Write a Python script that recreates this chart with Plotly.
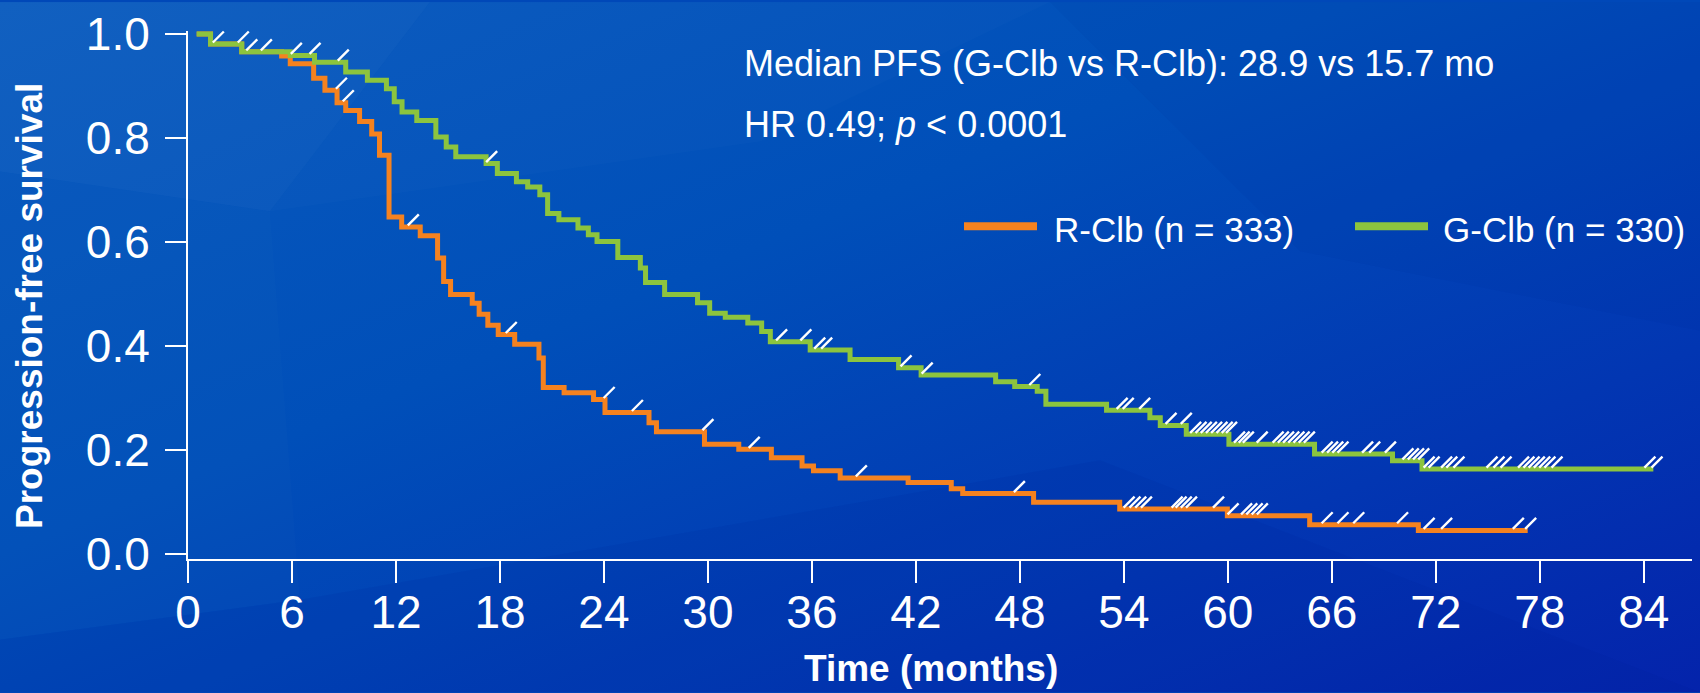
import base64
import plotly.graph_objects as go

# ---------------- data ----------------
# R-Clb (orange): Kaplan-Meier step times (months) and survival after each step
rclb_time = [0.5, 1.3, 3.1, 5.4, 5.9, 7.25, 7.9, 8.6, 9.1, 9.9, 10.6, 11.05, 11.6, 12.33,
             13.4, 14.4, 14.75, 15.15, 16.4, 16.8, 17.3, 17.9, 18.85, 20.25, 20.5, 21.7,
             23.4, 24.06, 26.6, 27.03, 29.8, 31.78, 33.66, 35.43, 36.09, 37.63, 41.55,
             44.04, 44.7, 48.79, 53.76, 59.97, 64.72, 70.99]
rclb_surv = [1.0, 0.981, 0.966, 0.958, 0.943, 0.915, 0.892, 0.868, 0.853, 0.832, 0.808,
             0.767, 0.648, 0.629, 0.612, 0.569, 0.524, 0.499, 0.482, 0.461, 0.44, 0.422,
             0.403, 0.377, 0.32, 0.31, 0.297, 0.272, 0.252, 0.235, 0.211, 0.201, 0.185,
             0.169, 0.16, 0.146, 0.137, 0.125, 0.116, 0.099, 0.086, 0.073, 0.056, 0.045]
rclb_last_time = 77.3
rclb_censor = [8.85, 9.25, 13.0, 18.65, 24.3, 25.93, 30.0, 32.67, 38.85, 47.97, 54.3,
               54.64, 54.97, 55.3, 57.07, 57.3, 57.6, 57.9, 59.46, 60.3, 61.08, 61.38,
               61.69, 61.99, 65.73, 66.64, 67.55, 70.08, 71.61, 72.62, 76.76, 77.47]

# G-Clb (green)
gclb_time = [0.5, 1.3, 3.1, 5.9, 7.3, 9.1, 10.35, 11.45, 11.9, 12.35, 13.2, 14.3, 14.9,
             15.45, 17.2, 17.85, 18.95, 19.6, 20.3, 20.75, 21.4, 22.5, 23.1, 23.6, 24.8,
             26.1, 26.4, 27.5, 29.4, 30.1, 31.0, 32.3, 33.1, 33.6, 35.9, 38.2, 41.0, 42.3,
             46.6, 47.7, 49.0, 49.5, 53.0, 55.5, 56.1, 57.6, 60.06, 65.0, 69.5, 71.2]
gclb_surv = [1.0, 0.981, 0.966, 0.959, 0.946, 0.927, 0.911, 0.895, 0.87, 0.85, 0.834,
             0.802, 0.783, 0.764, 0.751, 0.732, 0.716, 0.706, 0.691, 0.655, 0.643, 0.627,
             0.614, 0.601, 0.57, 0.55, 0.522, 0.499, 0.483, 0.463, 0.455, 0.444, 0.428,
             0.408, 0.392, 0.374, 0.358, 0.344, 0.331, 0.322, 0.313, 0.288, 0.276, 0.262,
             0.247, 0.230, 0.211, 0.192, 0.179, 0.163]
gclb_last_time = 84.55
gclb_censor = [0.95, 1.75, 3.19, 3.68, 4.52, 6.25, 7.33, 8.96, 17.52, 34.25, 35.65, 36.45,
               36.85, 41.43, 42.65, 48.86, 53.9, 54.25, 55.2, 56.72, 57.6, 58.14, 58.45,
               58.75, 59.05, 59.35, 59.66, 59.96, 60.21, 60.67, 60.94, 61.18, 61.98, 62.9,
               63.2, 63.5, 63.8, 64.1, 64.4, 64.7, 65.73, 66.04, 66.34, 66.64, 68.06, 68.47,
               69.38, 70.39, 70.7, 71.0, 71.3, 71.61, 71.9, 72.62, 72.92, 73.33, 75.24,
               75.64, 76.05, 77.06, 77.37, 77.67, 77.97, 78.28, 78.58, 78.99, 84.35, 84.76]

x_ticks = [0, 6, 12, 18, 24, 30, 36, 42, 48, 54, 60, 66, 72, 78, 84]
y_ticks = [0.0, 0.2, 0.4, 0.6, 0.8, 1.0]
y_ticklabels = ["0.0", "0.2", "0.4", "0.6", "0.8", "1.0"]

series_names = ["R-Clb (n = 333)", "G-Clb (n = 330)"]
annot_line1 = "Median PFS (G-Clb vs R-Clb): 28.9 vs 15.7 mo"
annot_line2 = "HR 0.49; <i>p</i> &lt; 0.0001"
x_title = "Time (months)"
y_title = "Progression-free survival"

# ---------------- style ----------------
ORANGE = "#F5821F"
GREEN = "#8CC43E"
WHITE = "#FFFFFF"
FONT = "Liberation Sans, Arial, sans-serif"

W, H = 1700, 693
ML, MR, MT, MB = 188, 8, 29, 134
PW, PH = W - ML - MR, H - MT - MB
X_RANGE = [0, 86.78]
Y_RANGE = [-0.01, 1.006]
PX_PER_UNIT_Y = PH / (Y_RANGE[1] - Y_RANGE[0])
PX_PER_UNIT_X = PW / (X_RANGE[1] - X_RANGE[0])


def paper_x(px):
    return (px - ML) / PW


def paper_y(py):
    return (H - MB - py) / PH


def step_value(times, surv, t):
    v = surv[0]
    for ti, si in zip(times, surv):
        if ti <= t:
            v = si
    return v


def censor_points(times, surv, cens):
    # mark sits just above the curve, its lower-left end at the censor level
    lift = 7 / PX_PER_UNIT_Y
    back = 5.5 / PX_PER_UNIT_X
    ys = [step_value(times, surv, c - back) + lift for c in cens]
    return cens, ys


# background: blue gradient with faint facets (decoration)
svg = f"""<svg xmlns='http://www.w3.org/2000/svg' width='{W}' height='{H}' viewBox='0 0 {W} {H}' preserveAspectRatio='none'>
<defs><linearGradient id='g' x1='0' y1='0' x2='1' y2='1'>
<stop offset='0' stop-color='#0A5BBE'/>
<stop offset='0.4' stop-color='#004FB9'/>
<stop offset='0.75' stop-color='#0236B2'/>
<stop offset='1' stop-color='#0423AB'/>
</linearGradient></defs>
<rect width='{W}' height='{H}' fill='url(#g)'/>
<polygon points='0,0 430,0 270,210 0,170' fill='#ffffff' fill-opacity='0.03'/>
<polygon points='430,0 1050,0 760,140 270,210' fill='#ffffff' fill-opacity='0.015'/>
<polygon points='0,170 270,210 300,600 0,640' fill='#ffffff' fill-opacity='0.012'/>
<polygon points='0,640 300,600 1100,460 1700,693 0,693' fill='#001a90' fill-opacity='0.10'/>
<polygon points='1050,0 1700,0 1700,330 1300,250' fill='#001a90' fill-opacity='0.06'/>
</svg>"""
bg_src = "data:image/svg+xml;base64," + base64.b64encode(svg.encode()).decode()

fig = go.Figure()

for times, surv, last, color, name in [
    (rclb_time, rclb_surv, rclb_last_time, ORANGE, series_names[0]),
    (gclb_time, gclb_surv, gclb_last_time, GREEN, series_names[1]),
]:
    fig.add_trace(go.Scatter(
        x=times + [last], y=surv + [surv[-1]], mode="lines", name=name,
        line=dict(color=color, width=5, shape="hv"), showlegend=False,
        hoverinfo="skip"))

for times, surv, cens in [(rclb_time, rclb_surv, rclb_censor),
                          (gclb_time, gclb_surv, gclb_censor)]:
    cx, cy = censor_points(times, surv, cens)
    fig.add_trace(go.Scatter(
        x=cx, y=cy, mode="markers", showlegend=False, cliponaxis=False,
        marker=dict(symbol="line-ne", size=11, color=WHITE,
                    line=dict(color=WHITE, width=2.4)),
        hoverinfo="skip"))

annotations = [
    dict(text=annot_line1, x=paper_x(742), y=paper_y(62), xref="paper", yref="paper",
         xanchor="left", yanchor="middle", showarrow=False,
         font=dict(family=FONT, size=36, color=WHITE)),
    dict(text=annot_line2, x=paper_x(742), y=paper_y(123), xref="paper", yref="paper",
         xanchor="left", yanchor="middle", showarrow=False,
         font=dict(family=FONT, size=36, color=WHITE)),
    dict(text=series_names[0], x=paper_x(1052), y=paper_y(228), xref="paper", yref="paper",
         xanchor="left", yanchor="middle", showarrow=False,
         font=dict(family=FONT, size=35, color=WHITE)),
    dict(text=series_names[1], x=paper_x(1441), y=paper_y(228), xref="paper", yref="paper",
         xanchor="left", yanchor="middle", showarrow=False,
         font=dict(family=FONT, size=35, color=WHITE)),
    dict(text=x_title, x=paper_x(931), y=paper_y(669), xref="paper", yref="paper",
         xanchor="center", yanchor="middle", showarrow=False,
         font=dict(family=FONT, size=37, color=WHITE, weight="bold")),
    dict(text=y_title, x=paper_x(30), y=paper_y(305), xref="paper", yref="paper",
         xanchor="center", yanchor="middle", showarrow=False, textangle=-90,
         font=dict(family=FONT, size=37, color=WHITE, weight="bold")),
]

shapes = [
    dict(type="line", xref="paper", yref="paper", x0=paper_x(964), x1=paper_x(1037),
         y0=paper_y(225), y1=paper_y(225), line=dict(color=ORANGE, width=8)),
    dict(type="line", xref="paper", yref="paper", x0=paper_x(1355), x1=paper_x(1428),
         y0=paper_y(225), y1=paper_y(225), line=dict(color=GREEN, width=8)),
]

fig.update_layout(
    width=W, height=H,
    margin=dict(l=ML, r=MR, t=MT, b=MB, pad=0),
    paper_bgcolor="#0048B8",
    plot_bgcolor="rgba(0,0,0,0)",
    showlegend=False,
    images=[dict(source=bg_src, xref="paper", yref="paper",
                 x=paper_x(0), y=paper_y(0), sizex=W / PW, sizey=H / PH,
                 xanchor="left", yanchor="top", sizing="stretch", layer="below")],
    annotations=annotations,
    shapes=shapes,
    xaxis=dict(range=X_RANGE, tickvals=x_ticks, ticks="outside", ticklen=22,
               tickwidth=2, tickcolor=WHITE, showline=True, linecolor=WHITE,
               linewidth=2, showgrid=False, zeroline=False,
               tickfont=dict(family=FONT, size=46, color=WHITE),
               ticklabelstandoff=-10),
    yaxis=dict(range=Y_RANGE, tickvals=y_ticks, ticktext=y_ticklabels,
               ticks="outside", ticklen=21, tickwidth=2, tickcolor=WHITE,
               showline=True, linecolor=WHITE, linewidth=2, showgrid=False,
               zeroline=False, tickfont=dict(family=FONT, size=46, color=WHITE),
               ticklabelstandoff=6),
)

fig.write_html("out.html")
